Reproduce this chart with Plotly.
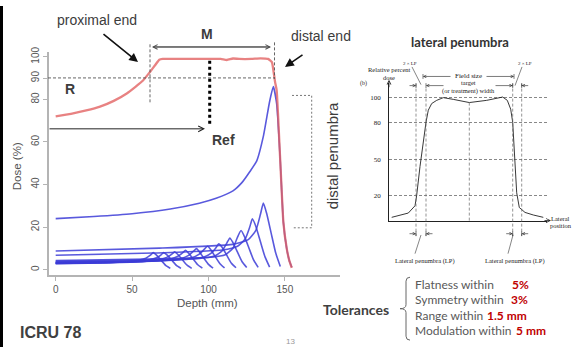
import plotly.graph_objects as go

W, H = 576, 347

# ---------------- data: depth-dose chart (ICRU 78) ----------------
sobp_depth = [0, 10, 20, 29, 38, 46.5, 52, 57.3, 61.7, 65, 67.8, 70, 80, 90, 100, 108, 112, 116,
              120, 128, 134, 139, 141.5, 142.6, 143.6, 144.6, 146.8, 149, 151.2, 152.8, 154.5]
sobp_dose = [72.0, 73.2, 74.8, 76.6, 79.3, 82.8, 85.8, 89.0, 92.9, 96.0, 98.6, 99, 99, 99, 99, 99, 98.5, 99.2,
             99, 99, 99.3, 99, 97.5, 93, 88, 84.3, 53.5, 22.3, 9.9, 4.5, 0.8]

deep_peak_depth = [0, 25, 50, 75, 94, 105, 116, 122, 127, 131.5, 136, 140, 142.4, 144.6, 146.8, 149, 151.2, 153, 154.5]
deep_peak_dose = [24, 25, 26.3, 28.5, 31.2, 33.5, 37, 41, 46, 51, 63, 79, 86, 78, 53.5, 22.3, 9.9, 4, 1.2]

pristine_depths = [
    [0, 32, 44, 54, 59, 62, 63.8, 66, 69, 72, 75],
    [0, 35, 51, 61, 66, 69, 70.6, 73, 76, 79, 82],
    [0, 39, 58, 68, 73, 76, 77.8, 80, 83, 86, 89],
    [0, 42, 65, 75, 80, 83, 85, 87, 90, 93, 96],
    [0, 46, 72, 82, 87, 90, 92.2, 94, 97, 100, 103],
    [0, 50, 79, 89, 94, 97, 99.4, 101.5, 104.5, 107.5, 110.5],
    [0, 53, 87, 97, 102, 105, 106.7, 109, 112, 115, 118],
    [0, 57, 94, 104, 109, 112, 114, 116, 119, 122, 125],
    [0, 61, 101, 111, 116, 119, 121.3, 123.5, 126.5, 129.5, 132.5],
    [0, 64, 109, 119, 124, 127, 128.7, 131, 134, 137, 140],
    [0, 68, 116, 126, 131, 134, 135.9, 138, 141, 144, 147],
]
pristine_doses = [
    [2.8, 3.2, 3.6, 4.4, 5.4, 6.8, 8.0, 6.8, 4.4, 2.0, 0.6],
    [2.9, 3.3, 3.8, 4.6, 5.6, 7.0, 8.0, 6.8, 4.4, 2.0, 0.6],
    [3.0, 3.4, 3.9, 4.8, 5.9, 7.3, 8.4, 7.1, 4.6, 2.1, 0.6],
    [3.1, 3.6, 4.1, 5.0, 6.3, 7.9, 9.1, 7.7, 5.0, 2.3, 0.7],
    [3.2, 3.7, 4.3, 5.2, 6.7, 8.6, 9.9, 8.4, 5.4, 2.5, 0.7],
    [3.4, 3.9, 4.6, 5.6, 7.3, 9.4, 11.0, 9.4, 6.0, 2.8, 0.8],
    [3.6, 4.1, 4.9, 5.9, 7.9, 10.4, 12.2, 10.4, 6.7, 3.0, 0.9],
    [3.9, 4.5, 5.3, 6.4, 8.9, 12.5, 14.9, 12.7, 8.2, 3.7, 1.0],
    [4.3, 5.0, 5.8, 7.0, 10.1, 15.3, 18.4, 15.6, 10.1, 4.6, 1.1],
    [6.8, 7.8, 9.2, 11.0, 14.4, 20.0, 23.9, 20.3, 13.1, 6.0, 1.2],
    [8.8, 10.1, 11.9, 14.1, 18.5, 26.0, 31.3, 26.6, 17.2, 7.8, 1.5],
]
x_ticks = [0, 50, 100, 150]
y_ticks = [0, 20, 40, 60, 80, 90, 100]

# ---------------- data: lateral profile ----------------
lat_pos = [-77.6, -61.0, -54.3, -52.7, -49.3, -46.0, -43.3, -41.0, -37.6, -32.6, -26.0, -16.0, 0.0,
           17.4, 33.4, 38.0, 41.4, 43.4, 45.7, 47.4, 50.0, 55.7, 64.0, 74.0]
lat_dose = [2.6, 6.1, 12.0, 20.0, 44.0, 65.3, 80.0, 89.8, 95.2, 97.8, 100.0, 98.6, 96.0,
            97.8, 100.5, 97.8, 90.6, 80.0, 52.0, 22.6, 10.6, 6.6, 4.5, 2.6]
lat_ticks = [20, 50, 80, 100]

tolerance_labels = ["Flatness within", "Symmetry within", "Range within", "Modulation within"]
tolerance_values = ["5%", "3%", "1.5 mm", "5 mm"]

SANS = "Liberation Sans, Arial, sans-serif"
SERIF = "Liberation Serif, Times New Roman, serif"
CAL = "Lato, Open Sans, sans-serif"


def X(px):
    return px / W


def Y(py):
    return 1 - py / H


fig = go.Figure()

BLUE = "rgba(60,60,215,0.85)"
RED = "rgba(226,95,95,0.78)"

for xs, ys in zip(pristine_depths, pristine_doses):
    fig.add_trace(go.Scatter(x=xs, y=ys, mode="lines", xaxis="x", yaxis="y", hoverinfo="skip",
                             line=dict(color=BLUE, width=1.6, shape="spline", smoothing=0.5)))
fig.add_trace(go.Scatter(x=deep_peak_depth, y=deep_peak_dose, mode="lines", xaxis="x", yaxis="y",
                         hoverinfo="skip", line=dict(color=BLUE, width=1.6, shape="spline", smoothing=0.5)))
fig.add_trace(go.Scatter(x=sobp_depth, y=sobp_dose, mode="lines", xaxis="x", yaxis="y", hoverinfo="skip",
                         line=dict(color=RED, width=2.3, shape="spline", smoothing=0.4)))
fig.add_trace(go.Scatter(x=lat_pos, y=lat_dose, mode="lines", xaxis="x2", yaxis="y2", hoverinfo="skip",
                         line=dict(color="#222", width=0.9)))

shapes = []
annotations = []


def seg(x0, y0, x1, y1, color="#555", width=1, dash=None):
    d = dict(type="line", xref="paper", yref="paper", x0=X(x0), y0=Y(y0), x1=X(x1), y1=Y(y1),
             line=dict(color=color, width=width))
    if dash:
        d["line"]["dash"] = dash
    shapes.append(d)


def txt(t, x, y, size, color="#3c3c3c", bold=False, family=SANS, angle=0, xanchor="center"):
    if bold:
        t = "<b>" + t + "</b>"
    annotations.append(dict(text=t, x=X(x), y=Y(y), xref="paper", yref="paper", showarrow=False,
                            xanchor=xanchor, yanchor="middle", textangle=angle,
                            font=dict(family=family, size=size, color=color)))


def arrow(hx, hy, tx, ty, color="#111", width=1, head=2, size=1.0):
    annotations.append(dict(text="", x=X(hx), y=Y(hy), xref="paper", yref="paper", showarrow=True,
                            ax=tx - hx, ay=ty - hy, axref="pixel", ayref="pixel",
                            arrowhead=head, arrowsize=size, arrowwidth=width, arrowcolor=color,
                            standoff=0, startstandoff=0))


# left slide border
shapes.append(dict(type="rect", xref="paper", yref="paper", x0=0, x1=X(3), y0=0, y1=1,
                   fillcolor="#000", line=dict(width=0)))

# ---- main chart overlays ----
seg(48, 73.2, 275, 73.2, "#555", 0.9, "3px,2px")
seg(150, 39, 150, 99, "#555", 0.9, "3px,2px")
seg(274.5, 37, 274.5, 74, "#555", 0.9, "3px,2px")
seg(209.7, 55.7, 209.7, 122, "#000", 3, "dot")
shapes.append(dict(type="path", xref="paper", yref="paper",
                   path=f"M {X(292)},{Y(91)} L {X(311.7)},{Y(91)} L {X(311.7)},{Y(225.7)} L {X(292)},{Y(225.7)}",
                   line=dict(color="#666", width=0.9, dash="2px,2px")))

arrow(138, 57, 102, 28, "#111", 1.6, 2, 1.1)
arrow(285, 62, 304, 49, "#111", 1.6, 2, 1.1)
arrow(152, 41.7, 271, 41.7, "#444", 0.9, 5, 1.0)
arrow(271, 41.7, 152, 41.7, "#444", 0.9, 5, 1.0)
arrow(205, 125, 48, 125, "#222", 1.0, 5, 1.1)

txt("proximal end", 97, 14, 14)
txt("M", 207, 28, 14, bold=True)
txt("distal end", 321, 31, 14)
txt("R", 70, 84, 14, bold=True)
txt("Ref", 223, 136, 14, bold=True)
txt("distal penumbra", 332, 153, 15, angle=-90)
txt("Dose (%)", 17, 163, 11.5, color="#555", angle=-90)
txt("Depth (mm)", 207, 302, 11.5, color="#555")
txt("ICRU 78", 50, 332, 16, color="#404040", bold=True)
txt("13", 290, 341, 8, color="#999")

# ---- lateral penumbra panel ----
txt("lateral penumbra", 460, 36.5, 13, color="#333", bold=True, family=CAL)
for xv, (y0, y1) in zip([416, 426, 469.3, 512.7, 521.7],
                        [(79, 234), (84, 234), (98.3, 219), (79, 234), (79, 234)]):
    seg(xv, y0, xv, y1, "#666", 0.7, "3px,2px")

SMALL = "#222"
txt("(b)", 363, 79, 6, SMALL, family=SERIF)
txt("Relative percent", 389, 65, 6.5, SMALL, family=SERIF)
txt("dose", 389, 72.3, 6.5, SMALL, family=SERIF)
txt("2 × LP", 410, 58.5, 5, SMALL, family=SERIF)
txt("2 × LP", 525, 58.5, 5, SMALL, family=SERIF)
txt("Field size", 468, 71.7, 7, SMALL, family=SERIF)
txt("target", 468, 78.3, 6.5, SMALL, family=SERIF)
txt("(or treatment) width", 468, 86.7, 6.5, SMALL, family=SERIF)
txt("Lateral", 560, 216, 6.5, SMALL, family=SERIF)
txt("position", 561, 223.3, 6.5, SMALL, family=SERIF)
txt("Lateral penumbra (LP)", 425, 259.3, 6.5, SMALL, family=SERIF)
txt("Lateral penumbra (LP)", 515, 259.3, 6.5, SMALL, family=SERIF)

seg(412, 62, 421, 80, "#333", 0.6)
seg(522, 62, 515, 81, "#333", 0.6)
seg(421, 233, 415, 252, "#333", 0.6)
seg(513, 233, 508, 252, "#333", 0.6)

# axis arrowheads
arrow(389, 75, 389, 84, "#222", 0.8, 5, 1.0)
arrow(551, 218.3, 543, 218.3, "#222", 0.8, 5, 1.0)

# dimension arrows
AR = "#222"
arrow(423, 71.7, 452, 71.7, AR, 0.6, 5, 0.9)
arrow(514, 71.7, 485, 71.7, AR, 0.6, 5, 0.9)
for row in (81, 231.7):
    arrow(416, row, 408, row, AR, 0.6, 5, 0.9)
    arrow(512.7, row, 504.7 if row > 100 else 494, row, AR, 0.6, 5, 0.9)
    arrow(426, row, 434 if row > 100 else 445, row, AR, 0.6, 5, 0.9)
    arrow(521.7, row, 529.7, row, AR, 0.6, 5, 0.9)
    for xv in (416, 426, 512.7, 521.7):
        seg(xv, row - 2.5, xv, row + 2.5, AR, 0.6)
for xv in (423, 514):
    seg(xv, 69.2, xv, 74.2, AR, 0.6)

# ---- tolerances ----
txt("Tolerances", 355.5, 308.5, 14, color="#404040", bold=True, family=CAL)
shapes.append(dict(type="path", xref="paper", yref="paper",
                   path=(f"M {X(410)},{Y(276)} Q {X(406)},{Y(276)} {X(406)},{Y(280)} L {X(406)},{Y(304)} "
                         f"Q {X(406)},{Y(308)} {X(400)},{Y(308)} Q {X(406)},{Y(308)} {X(406)},{Y(312)} "
                         f"L {X(406)},{Y(336)} Q {X(406)},{Y(340)} {X(410)},{Y(340)}"),
                   line=dict(color="#666", width=1)))
for lab, val, yy, xv in zip(tolerance_labels, tolerance_values, [283.3, 299, 314.7, 330.3], [510, 509, 485, 514]):
    txt(lab, 412.7, yy, 12, color="#595959", family=CAL, xanchor="left")
    txt(val, xv, yy, 12, color="#c00000", bold=True, family=CAL, xanchor="left")

AX = "#b4b4b4"
fig.update_layout(
    width=W, height=H, margin=dict(l=0, r=0, t=0, b=0),
    paper_bgcolor="white", plot_bgcolor="white", showlegend=False,
    xaxis=dict(domain=[X(49), X(340)], range=[-4.38, 186.06], tickvals=x_ticks, showline=True,
               linecolor=AX, linewidth=2, ticks="outside", ticklen=4, tickcolor=AX, tickwidth=1.2,
               tickfont=dict(family=SANS, size=10, color="#555"), showgrid=False, zeroline=False,
               anchor="y", fixedrange=True),
    yaxis=dict(domain=[Y(274), Y(47)], range=[-2.63, 102.17], tickvals=y_ticks, tickangle=-90,
               showline=True, linecolor=AX, linewidth=2, ticks="outside", ticklen=4, tickcolor=AX,
               tickwidth=1.2, tickfont=dict(family=SANS, size=10, color="#555"), showgrid=False,
               zeroline=False, anchor="x", fixedrange=True),
    xaxis2=dict(domain=[X(389), X(546.7)], range=[-80.3, 77.4], showline=True, linecolor="#222",
                linewidth=0.9, showticklabels=False, ticks="", showgrid=False, zeroline=False,
                anchor="y2", fixedrange=True),
    yaxis2=dict(domain=[Y(219), Y(78)], range=[-0.56, 112.2], tickvals=lat_ticks, showline=True,
                linecolor="#222", linewidth=0.9, ticks="outside", ticklen=6, tickcolor="rgba(0,0,0,0)",
                tickfont=dict(family=SERIF, size=7, color="#222"), showgrid=True, gridcolor="#888",
                gridwidth=0.7, griddash="3px,2px", zeroline=False, anchor="x2", fixedrange=True),
    shapes=shapes, annotations=annotations,
)

fig.write_html("out.html", config={"displayModeBar": False},
               post_script="document.body.style.margin='0';document.body.style.overflow='hidden';")
